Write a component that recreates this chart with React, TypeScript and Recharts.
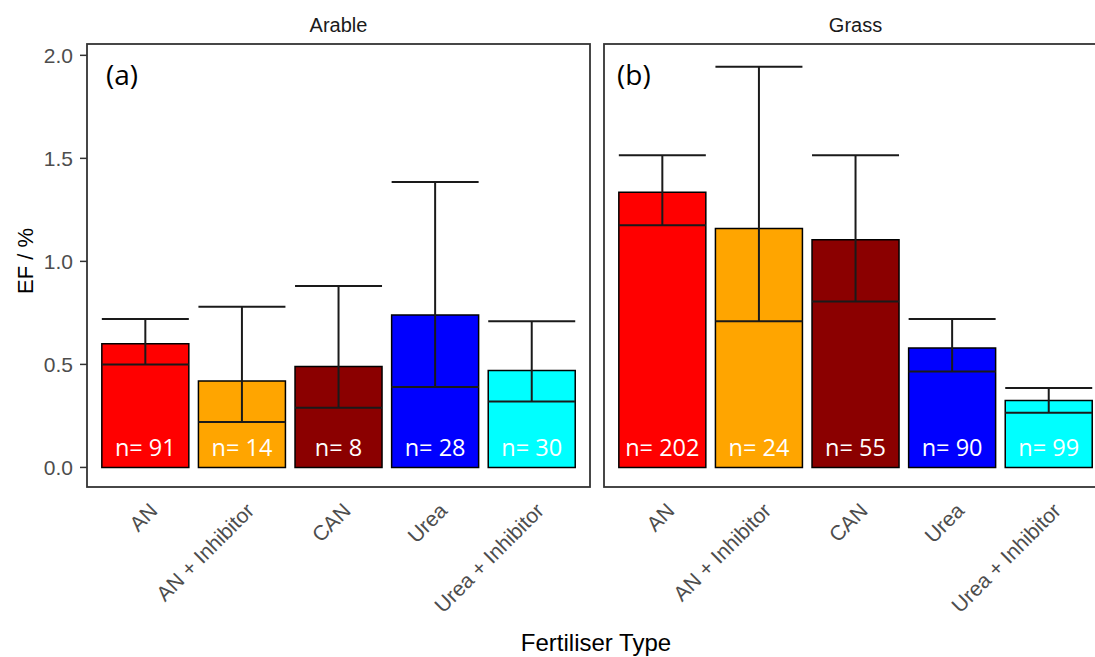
import React from 'react';
import { BarChart, Bar, XAxis, YAxis, ErrorBar, Cell, LabelList } from 'recharts';

// fertiliser types, shared by both facets
const categories = ['AN', 'AN + Inhibitor', 'CAN', 'Urea', 'Urea + Inhibitor'];
const barColors = ['#FF0000', '#FFA500', '#8B0000', '#0000FF', '#00FFFF'];

// Arable facet: bar height, lower / upper end of the whisker, sample size
const arableMean = [0.60, 0.42, 0.49, 0.74, 0.47];
const arableLower = [0.50, 0.22, 0.29, 0.39, 0.32];
const arableUpper = [0.72, 0.78, 0.88, 1.385, 0.71];
const arableN = [91, 14, 8, 28, 30];

// Grass facet
const grassMean = [1.335, 1.16, 1.105, 0.58, 0.325];
const grassLower = [1.175, 0.71, 0.805, 0.465, 0.265];
const grassUpper = [1.515, 1.945, 1.515, 0.72, 0.385];
const grassN = [202, 24, 55, 90, 99];

const yTicks = [0, 0.5, 1.0, 1.5, 2.0];
const yDomain = [-0.095, 2.055];

const buildRows = (mean: number[], lower: number[], upper: number[], n: number[]) =>
  categories.map((name, i) => ({
    name,
    mean: mean[i],
    err: [mean[i] - lower[i], upper[i] - mean[i]],
    n: n[i],
  }));

const arableRows = buildRows(arableMean, arableLower, arableUpper, arableN);
const grassRows = buildRows(grassMean, grassLower, grassUpper, grassN);

const axisFont = '"Liberation Sans", Arial, sans-serif';
const labelFont = '"Open Sans", "Noto Sans", sans-serif';

const SlantTick = (props: any) => {
  const { x, y, payload } = props;
  const ax = x + 13.5;
  const ay = y + 25;
  return (
    <text
      x={ax}
      y={ay}
      transform={`rotate(-45, ${ax}, ${ay})`}
      textAnchor="end"
      fontSize={21}
      fontFamily={axisFont}
      fill="#4D4D4D"
    >
      {payload.value}
    </text>
  );
};

const CountLabel = (props: any) => {
  const { x, y, width, height, value } = props;
  return (
    <text
      x={x + width / 2}
      y={y + height - 11}
      textAnchor="middle"
      fill="#FFFFFF"
      fontSize={23.5}
      fontFamily={labelFont}
    >
      {`n= ${value}`}
    </text>
  );
};

const Facet: React.FC<{ rows: any[]; showY: boolean; width: number }> = ({ rows, showY, width }) => (
  <BarChart
    width={width}
    height={657}
    data={rows}
    margin={{ top: 44, right: 10, bottom: 50, left: 0 }}
    barCategoryGap="5%"
  >
    <XAxis
      dataKey="name"
      interval={0}
      height={120}
      padding={{ left: 10, right: 10 }}
      axisLine={false}
      tickLine={false}
      tickSize={0}
      tickMargin={0}
      tick={<SlantTick />}
    />
    <YAxis
      hide={!showY}
      width={87}
      type="number"
      domain={yDomain}
      allowDataOverflow
      ticks={yTicks}
      tickFormatter={(v: number) => v.toFixed(1)}
      axisLine={false}
      tickSize={7}
      tickMargin={7}
      tickLine={{ stroke: '#333333', strokeWidth: 1.5 }}
      tick={{ fontSize: 21, fontFamily: axisFont, fill: '#4D4D4D' }}
    />
    <Bar dataKey="mean" stroke="#000000" strokeWidth={1.5} isAnimationActive={false}>
      {rows.map((r, i) => (
        <Cell key={r.name} fill={barColors[i]} />
      ))}
      <ErrorBar dataKey="err" direction="y" width={43.5} stroke="#1A1A1A" strokeWidth={2} />
      <LabelList dataKey="n" content={<CountLabel />} />
    </Bar>
  </BarChart>
);

export default function App() {
  return (
    <div
      style={{
        position: 'absolute',
        left: 0,
        top: 0,
        width: 1095,
        height: 657,
        overflow: 'hidden',
        background: '#FFFFFF',
      }}
    >
      <div style={{ position: 'absolute', left: 0, top: 0 }}>
        <Facet rows={arableRows} showY width={600} />
      </div>
      <div style={{ position: 'absolute', left: 604, top: 0 }}>
        <Facet rows={grassRows} showY={false} width={513} />
      </div>
      <svg
        width={1095}
        height={657}
        style={{ position: 'absolute', left: 0, top: 0, pointerEvents: 'none' }}
      >
        <rect x={87} y={44} width={503} height={443} fill="none" stroke="#333333" strokeWidth={1.8} />
        <rect x={604} y={44} width={503} height={443} fill="none" stroke="#333333" strokeWidth={1.8} />
        <text x={338.5} y={31.5} textAnchor="middle" fontSize={20} fontFamily={axisFont} fill="#1A1A1A">
          Arable
        </text>
        <text x={855.5} y={31.5} textAnchor="middle" fontSize={20} fontFamily={axisFont} fill="#1A1A1A">
          Grass
        </text>
        <text x={106} y={85} fontSize={28} fontFamily={labelFont} fill="#000000">
          (a)
        </text>
        <text x={617} y={85} fontSize={28} fontFamily={labelFont} fill="#000000">
          (b)
        </text>
        <text
          x={33}
          y={261}
          transform="rotate(-90, 33, 261)"
          textAnchor="middle"
          fontSize={22}
          fontFamily={axisFont}
          fill="#000000"
        >
          EF / %
        </text>
        <text x={596} y={651} textAnchor="middle" fontSize={24} fontFamily={axisFont} fill="#000000">
          Fertiliser Type
        </text>
      </svg>
    </div>
  );
}
